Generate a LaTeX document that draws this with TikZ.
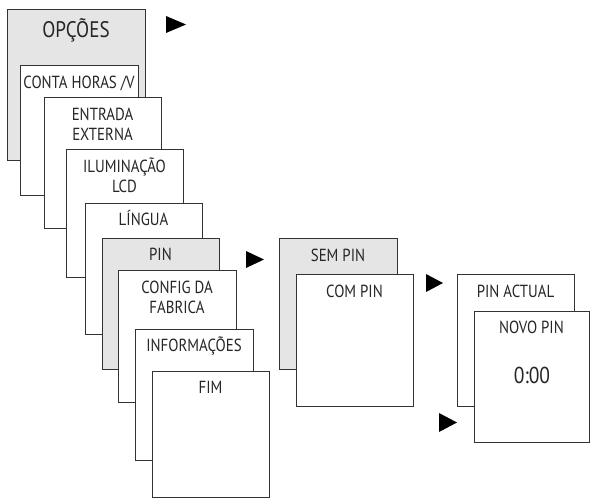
\documentclass[tikz,border=0pt]{standalone}
\usepackage{fontspec}
\setmainfont{PT Sans}[FakeStretch=0.85]
\begin{document}
\begin{tikzpicture}[x=1pt,y=-1pt,
  box/.style={draw=black!80,line width=0.9pt,fill=white},
  gbox/.style={box,fill=black!10},
  lbl/.style={anchor=base,inner sep=0pt,font=\fontsize{17.5}{20}\selectfont,text=black!85},
  big/.style={lbl,font=\fontsize{22.5}{24}\selectfont},
  tri/.style={fill=black}]
\useasboundingbox (0,0) rectangle (590,499);
% left stack
\draw[gbox] (7,9) rectangle (145,160);
\node[big] (t0) at (76,37) {OPÇÕES};
\draw[box] (20,65) rectangle (138,195);
\node[lbl] (t1) at (79,88) {CONTA HORAS /V};
\draw[box] (44,97) rectangle (161,228);
\node[lbl] (t2a) at (102.5,120) {ENTRADA};
\node[lbl] (t2b) at (102.5,140) {EXTERNA};
\draw[box] (66,149) rectangle (183,277);
\node[lbl] (t3a) at (124.5,172) {ILUMINAÇÃO};
\node[lbl] (t3b) at (124.5,192) {LCD};
\draw[box] (85,203) rectangle (202,334);
\node[lbl] (t4) at (143.5,225) {LÍNGUA};
\draw[gbox] (102,238) rectangle (219,369);
\node[lbl] (t5) at (160.5,260) {PIN};
\draw[box] (118,270) rectangle (236,402);
\node[lbl] (t6a) at (177,293) {CONFIG DA};
\node[lbl] (t6b) at (177,313) {FABRICA};
\draw[box] (135,329) rectangle (253,460);
\node[lbl] (t7) at (194,351) {INFORMAÇÕES};
\draw[box] (152,371) rectangle (269,497);
\node[lbl] (t8) at (210.5,393) {FIM};
% middle stack
\draw[gbox] (279,238) rectangle (397,369);
\node[lbl] (t9) at (338,261) {SEM PIN};
\draw[box] (296,274) rectangle (413,406);
\node[lbl] (t10) at (354.5,297) {COM PIN};
% right stack
\draw[box] (457,274) rectangle (574,406);
\node[lbl] (t11) at (515.5,297) {PIN ACTUAL};
\draw[box] (474,311) rectangle (589,442);
\node[lbl] (t12) at (531.5,333) {NOVO PIN};
\node[big,font=\fontsize{23}{24}\selectfont] (t13) at (532,383) {0:00};
% triangles
\fill[tri] (166,16) -- (166,33) -- (186,24.5) -- cycle;
\fill[tri] (246,251) -- (246,268) -- (264,259.5) -- cycle;
\fill[tri] (426,274) -- (426,292) -- (443,283) -- cycle;
\fill[tri] (439,413) -- (439,432) -- (457,422.5) -- cycle;
\end{tikzpicture}
\end{document}
